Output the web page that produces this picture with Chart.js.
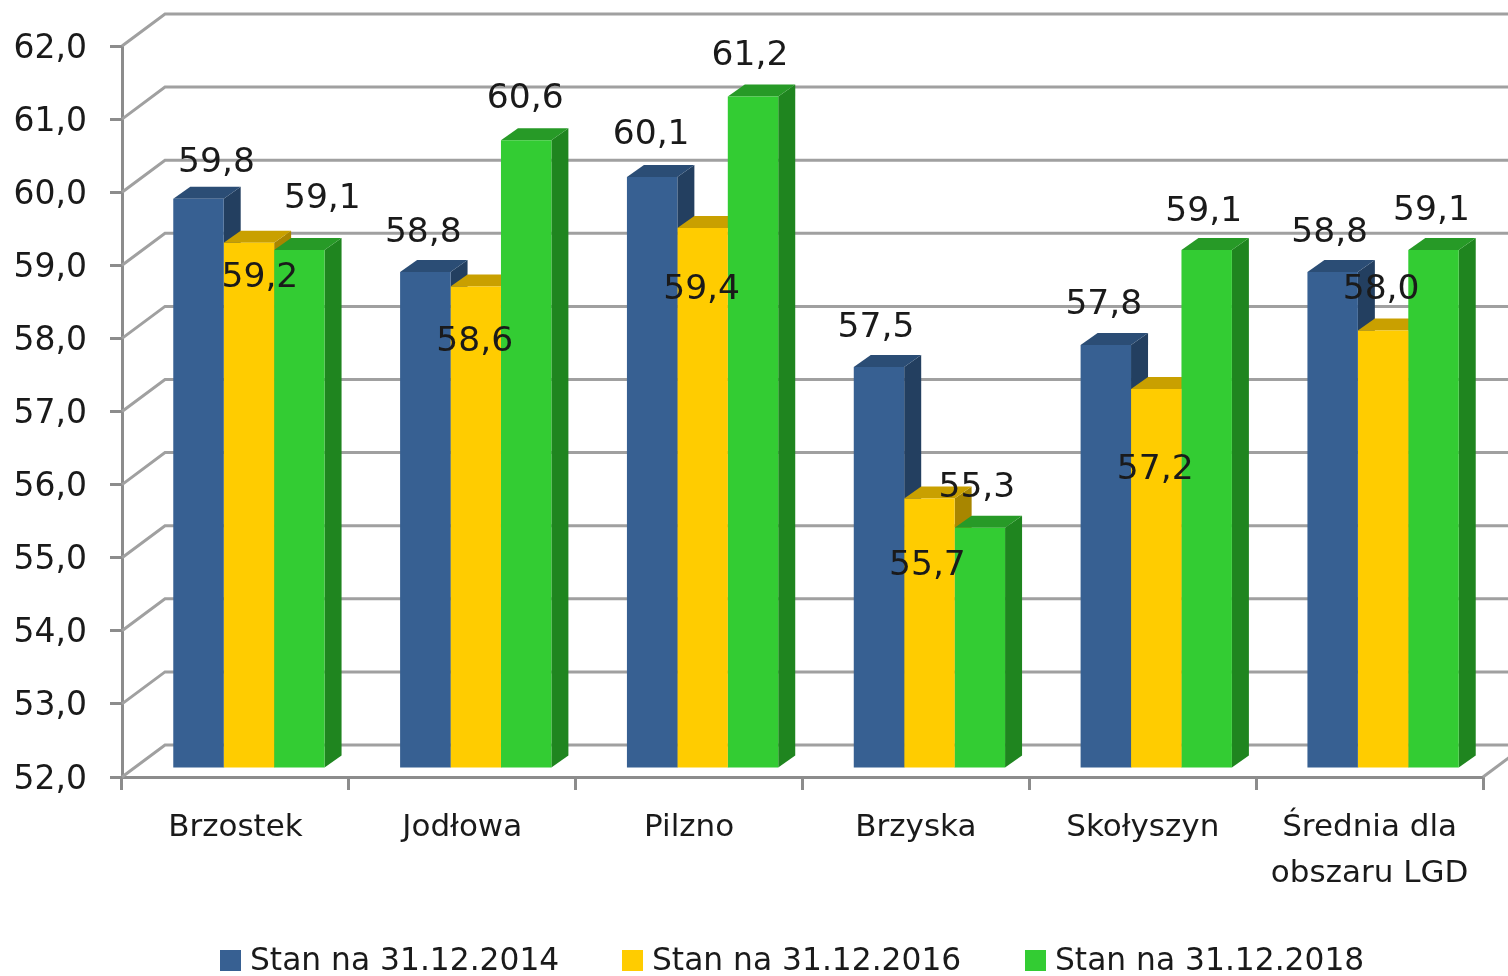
<!DOCTYPE html>
<html lang="pl">
<head>
  <meta charset="UTF-8">
  <title>Stan na 31.12</title>
  <script src="https://cdn.jsdelivr.net/npm/chart.js"></script>
  <style>
    html, body { margin: 0; padding: 0; background: #fff; overflow: hidden; }
    #wrap { position: relative; width: 1508px; height: 976px; overflow: hidden; filter: blur(0.6px); }
    #legend span.item {
      position: absolute;
      top: 941px;
      display: flex;
      align-items: center;
      gap: 9px;
      white-space: nowrap;
      font: 31.3px "DejaVu Sans", sans-serif;
      color: #1a1a1a;
    }
    #legend span.box { display: inline-block; width: 21px; height: 21px; position: relative; top: 1px; }
  </style>
</head>
<body>
  <div id="wrap">
    <canvas id="chart"></canvas>
    <div id="legend"></div>
  </div>
  <script>
    const categories = ['Brzostek', 'Jodłowa', 'Pilzno', 'Brzyska', 'Skołyszyn', ['Średnia dla', 'obszaru LGD']];
    const seriesNames = ['Stan na 31.12.2014', 'Stan na 31.12.2016', 'Stan na 31.12.2018'];
    const values2014 = [59.8, 58.8, 60.1, 57.5, 57.8, 58.8];
    const values2016 = [59.2, 58.6, 59.4, 55.7, 57.2, 58.0];
    const values2018 = [59.1, 60.6, 61.2, 55.3, 59.1, 59.1];

    // where each value label sits relative to the top centre of its bar
    const labelOffsets = [
      [[18, -36], [-2, -39], [-1, -42], [-3, -39], [-2, -40], [-3, -39]],
      [[11, 35], [-1, 55], [-1, 62], [-2, 68], [-1, 81], [-2, -40]],
      [[23, -51], [-1, -41], [-3, -40], [-3, -40], [-3, -38], [-2, -39]],
    ];

    const fronts = ['#376092', '#ffcc00', '#33cc33'];
    const tops = ['#2b4d75', '#c9a000', '#279a27'];
    const sides = ['#233f60', '#a88600', '#1f851f'];
    const legendLefts = [220, 622, 1025];

    const fontFamily = '"DejaVu Sans", sans-serif';
    const textColor = '#1a1a1a';
    const axisColor = '#8c8c8c';
    const wallColor = '#a0a0a0';

    const wall = { x: 43, y: -32 };   // back wall offset from the front axes
    const plane = { x: 13.5, y: -8 }; // bars stand this far behind the axes
    const depth = { x: 17, y: -12 };  // bar depth

    const formatValue = (v) => v.toFixed(1).replace('.', ',');

    function poly(ctx, color, pts) {
      ctx.fillStyle = color;
      ctx.beginPath();
      pts.forEach((p, i) => (i ? ctx.lineTo(p[0], p[1]) : ctx.moveTo(p[0], p[1])));
      ctx.closePath();
      ctx.fill();
    }

    const walls = {
      id: 'walls',
      beforeDatasetsDraw(chart) {
        const { ctx, chartArea: area, scales } = chart;
        ctx.save();
        ctx.strokeStyle = wallColor;
        ctx.lineWidth = 3;
        scales.y.ticks.forEach((t) => {
          const y = scales.y.getPixelForValue(t.value);
          ctx.beginPath();
          ctx.moveTo(area.left, y);
          ctx.lineTo(area.left + wall.x, y + wall.y);
          ctx.lineTo(area.right + wall.x + 20, y + wall.y);
          ctx.stroke();
        });
        ctx.beginPath();
        ctx.moveTo(area.right, area.bottom);
        ctx.lineTo(area.right + wall.x, area.bottom + wall.y);
        ctx.stroke();
        ctx.restore();
      },
    };

    const bars3d = {
      id: 'bars3d',
      beforeDatasetsDraw(chart) {
        const { ctx } = chart;
        ctx.save();
        ctx.translate(plane.x, plane.y);
        chart.data.datasets.forEach((ds, i) => {
          chart.getDatasetMeta(i).data.forEach((bar) => {
            const l = bar.x - bar.width / 2;
            const r = bar.x + bar.width / 2;
            poly(ctx, sides[i], [[r, bar.y], [r + depth.x, bar.y + depth.y], [r + depth.x, bar.base + depth.y], [r, bar.base]]);
            poly(ctx, tops[i], [[l, bar.y], [l + depth.x, bar.y + depth.y], [r + depth.x, bar.y + depth.y], [r, bar.y]]);
          });
        });
      },
      afterDatasetsDraw(chart) {
        const { ctx } = chart;
        ctx.fillStyle = textColor;
        ctx.font = '34.5px ' + fontFamily;
        ctx.textAlign = 'center';
        ctx.textBaseline = 'middle';
        chart.data.datasets.forEach((ds, i) => {
          chart.getDatasetMeta(i).data.forEach((bar, j) => {
            const off = labelOffsets[i][j];
            ctx.fillText(formatValue(ds.data[j]), bar.x + off[0], bar.y + off[1]);
          });
        });
        ctx.restore();
      },
    };

    const seriesValues = [values2014, values2016, values2018];

    new Chart(document.getElementById('chart'), {
      type: 'bar',
      data: {
        labels: categories,
        datasets: seriesNames.map((name, i) => ({
          label: name,
          data: seriesValues[i],
          base: 52,
          backgroundColor: fronts[i],
          borderWidth: 0,
          categoryPercentage: 0.667,
          barPercentage: 1,
        })),
      },
      plugins: [walls, bars3d],
      options: {
        responsive: true,
        maintainAspectRatio: false,
        animation: false,
        layout: { padding: { top: 46, right: 25, bottom: 0, left: 0 } },
        plugins: {
          tooltip: { enabled: false },
          legend: { display: false },
        },
        scales: {
          x: {
            grid: { drawOnChartArea: false, color: axisColor, lineWidth: 3, tickLength: 13 },
            border: { color: axisColor, width: 3 },
            ticks: {
              color: textColor,
              padding: 15,
              maxRotation: 0,
              autoSkip: false,
              font: { family: fontFamily, size: 31, lineHeight: 1.48 },
            },
            afterFit(scale) { scale.height = 199; },
          },
          y: {
            min: 52,
            max: 62,
            grid: { drawOnChartArea: false, color: axisColor, lineWidth: 3, tickLength: 12 },
            border: { color: axisColor, width: 3 },
            ticks: {
              stepSize: 1,
              color: textColor,
              padding: 23,
              labelOffset: 3,
              font: { family: fontFamily, size: 33 },
              callback: (v) => formatValue(v),
            },
            afterFit(scale) { scale.width = 122; },
          },
        },
      },
    });

    // legend as html so the gaps between entries can be set freely
    const legend = document.getElementById('legend');
    seriesNames.forEach((name, i) => {
      const item = document.createElement('span');
      item.className = 'item';
      item.style.left = legendLefts[i] + 'px';
      const box = document.createElement('span');
      box.className = 'box';
      box.style.background = fronts[i];
      item.appendChild(box);
      item.appendChild(document.createTextNode(name));
      legend.appendChild(item);
    });
  </script>
</body>
</html>
